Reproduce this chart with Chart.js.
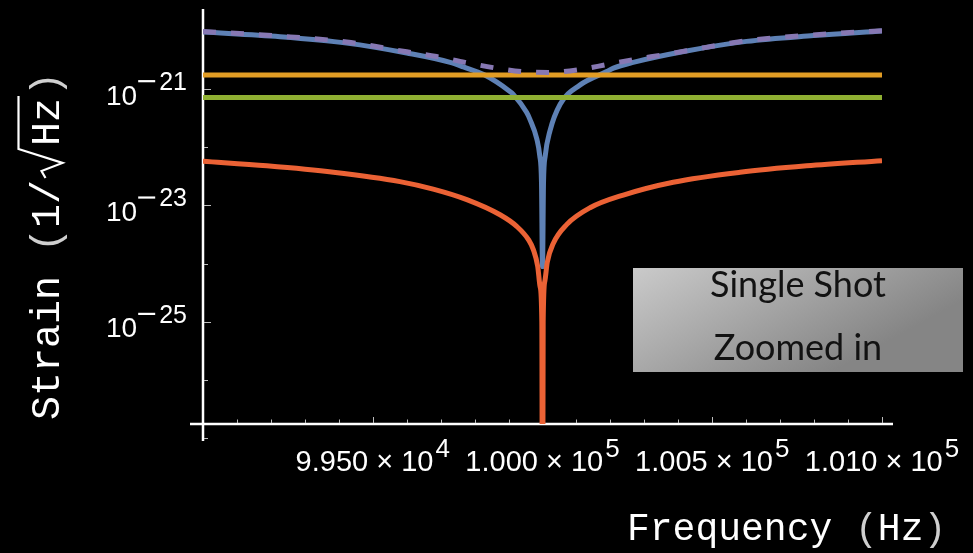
<!DOCTYPE html>
<html>
<head>
<meta charset="utf-8">
<script src="https://cdn.jsdelivr.net/npm/chart.js@4.4.0/dist/chart.umd.min.js"></script>
<style>
  html, body { margin: 0; padding: 0; background: #000; }
  canvas { display: block; }
</style>
</head>
<body>
<canvas id="strain" width="973" height="553" style="width:973px;height:553px"></canvas>
<script>
// frequency range shown (Hz) and strain range of the log axis (1/sqrt(Hz))
var freqMin = 99000, freqMax = 101000;
var strainMin = 1.75e-27, strainMax = 2.38e-20;

// blue: strain response, vanishing at resonance
var blueFreq = [99000, 99227, 99423, 99600, 99728, 99767, 99830, 99904, 99914, 99953, 99963, 99983, 99992, 99997,
  100000, 100003, 100008, 100022, 100052, 100110, 100189, 100209, 100267, 100420, 100601, 100798, 101000];
var blueStrain = [9.55e-21, 7.94e-21, 6.17e-21, 4.17e-21, 2.88e-21, 2.40e-21, 1.74e-21, 9.12e-22, 8.13e-22, 3.98e-22, 3.02e-22, 1.41e-22, 7.08e-23, 2.51e-23,
  8.9e-25, 2.51e-23, 7.08e-23, 1.91e-22, 5.50e-22, 1.17e-21, 2.00e-21, 2.29e-21, 2.88e-21, 4.47e-21, 6.61e-21, 8.32e-21, 1.00e-20];

// red: second contribution with the same null
var redFreq = [99000, 99188, 99384, 99580, 99678, 99777, 99875, 99924, 99960, 99973, 99986, 99993, 99998,
  100000, 100002, 100007, 100014, 100032, 100071, 100140, 100238, 100385, 100582, 100778, 101000];
var redStrain = [5.75e-23, 4.79e-23, 3.72e-23, 2.57e-23, 1.91e-23, 1.26e-23, 6.92e-24, 4.37e-24, 2.51e-24, 1.74e-24, 8.91e-25, 3.98e-25, 1.0e-25,
  1e-30, 1.0e-25, 5.01e-25, 1.05e-24, 2.24e-24, 4.68e-24, 9.12e-24, 1.51e-23, 2.51e-23, 3.72e-23, 4.79e-23, 5.89e-23];

// flat levels
var levelFreq = [99000, 101000];
var orangeLevel = [1.75e-21, 1.75e-21];
var greenLevel = [7.2e-22, 7.2e-22];

// dashed: combined total
var totalFreq = [99000, 99227, 99423, 99600, 99688, 99772, 99855, 99939, 100017, 100105, 100189, 100272, 100356, 100425, 100601, 100798, 101000];
var totalStrain = [9.77e-21, 8.13e-21, 6.46e-21, 4.37e-21, 3.63e-21, 2.88e-21, 2.34e-21, 2.00e-21, 1.93e-21, 2.14e-21, 2.63e-21, 3.24e-21, 3.89e-21, 4.57e-21, 6.76e-21, 8.51e-21, 1.01e-20];

// axis ticks
var xMajorTicks = [99500, 100000, 100500, 101000];
var xTickMantissa = ['9.950', '1.000', '1.005', '1.010'];
var xTickExponent = ['4', '5', '5', '5'];
var xMinorStep = 100;
var yMajorTicks = [1e-21, 1e-23, 1e-25];
var yTickExponent = ['21', '23', '25'];
var yMinorTicks = [1e-20, 1e-22, 1e-24, 1e-26, 1e-27];

function pts(xs, ys) {
  return xs.map(function (x, i) { return { x: x, y: ys[i] }; });
}

var axesPlugin = {
  id: 'mmaAxes',
  beforeDatasetsDraw: function (chart) {
    var ctx = chart.ctx, sx = chart.scales.x, sy = chart.scales.y;
    var ox = sx.getPixelForValue(freqMin);
    var oy = sy.getPixelForValue(strainMin);
    var xEnd = sx.getPixelForValue(freqMax);
    ctx.save();
    ctx.strokeStyle = '#ffffff';
    ctx.lineWidth = 2.5;
    ctx.beginPath();
    ctx.moveTo(ox - 13, oy); ctx.lineTo(xEnd + 11, oy);
    ctx.moveTo(ox, chart.chartArea.top); ctx.lineTo(ox, oy + 17);
    ctx.stroke();

    // tick marks
    ctx.strokeStyle = '#bdbdbd';
    ctx.lineWidth = 1;
    ctx.beginPath();
    for (var f = freqMin + xMinorStep; f <= freqMax; f += xMinorStep) {
      var px = Math.round(sx.getPixelForValue(f)) + 0.5;
      var len = xMajorTicks.indexOf(f) >= 0 ? 6 : 3.5;
      ctx.moveTo(px, oy - 1); ctx.lineTo(px, oy - 1 - len);
    }
    yMajorTicks.forEach(function (v) {
      var py = Math.round(sy.getPixelForValue(v)) + 0.5;
      ctx.moveTo(ox + 1, py); ctx.lineTo(ox + 8, py);
    });
    yMinorTicks.forEach(function (v) {
      var py = Math.round(sy.getPixelForValue(v)) + 0.5;
      ctx.moveTo(ox + 1, py); ctx.lineTo(ox + 5, py);
    });
    ctx.stroke();

    // tick labels: 10 with a superscript, minus sign drawn as a bar
    ctx.fillStyle = '#ffffff';
    ctx.textBaseline = 'alphabetic';
    ctx.textAlign = 'left';
    yMajorTicks.forEach(function (v, i) {
      var py = sy.getPixelForValue(v);
      ctx.font = '28px "Liberation Sans"';
      var wb = ctx.measureText('10').width;
      ctx.font = '25px "Liberation Sans"';
      var we = ctx.measureText(yTickExponent[i]).width;
      var right = 187;
      var expLeft = right - we;
      var left = expLeft - 22 - wb;
      ctx.font = '28px "Liberation Sans"';
      ctx.fillText('10', left, py + 15.5);
      ctx.fillRect(left + wb + 1, py - 9, 17, 2.2);
      ctx.font = '25px "Liberation Sans"';
      ctx.fillText(yTickExponent[i], expLeft, py + 1);
    });
    xMajorTicks.forEach(function (v, i) {
      var px = sx.getPixelForValue(v);
      var base = xTickMantissa[i] + ' \u00d7 10';
      ctx.font = '29px "Liberation Sans"';
      var wb = ctx.measureText(base).width;
      ctx.font = '26px "Liberation Sans"';
      var we = ctx.measureText(xTickExponent[i]).width;
      var left = px - (wb + we + 2) / 2;
      ctx.font = '29px "Liberation Sans"';
      ctx.fillText(base, left, 470.5);
      ctx.font = '26px "Liberation Sans"';
      ctx.fillText(xTickExponent[i], left + wb + 2, 456.5);
    });
    ctx.restore();
  },
  afterDraw: function (chart) {
    var ctx = chart.ctx;
    ctx.save();
    ctx.fillStyle = '#ffffff';
    ctx.textBaseline = 'alphabetic';

    // x title
    ctx.font = '38px "Liberation Mono"';
    ctx.textAlign = 'left';
    var xt = 627;
    ctx.fillText('Frequency ', xt, 540);
    xt += ctx.measureText('Frequency ').width;
    ctx.fillStyle = '#cfcfcf';
    ctx.fillText('(', xt, 540);
    xt += ctx.measureText('(').width;
    ctx.fillStyle = '#ffffff';
    ctx.fillText('Hz', xt, 540);
    xt += ctx.measureText('Hz').width;
    ctx.fillStyle = '#cfcfcf';
    ctx.fillText(')', xt, 540);

    // y title, rotated, with a drawn radical over Hz
    ctx.translate(58.5, 420);
    ctx.rotate(-Math.PI / 2);
    ctx.font = '40px "Liberation Mono"';
    ctx.fillStyle = '#ffffff';
    var u = 0;
    ctx.fillText('Strain ', u, 0);
    u += ctx.measureText('Strain ').width;
    ctx.fillStyle = '#cfcfcf';
    ctx.fillText('(', u, 0);
    u += ctx.measureText('(').width;
    ctx.fillStyle = '#ffffff';
    ctx.fillText('1/', u, 0);
    u += ctx.measureText('1/').width;
    var r0 = u + 2;
    u += 34;
    ctx.fillText('Hz', u, 0);
    u += ctx.measureText('Hz').width;
    var hzEnd = u;
    ctx.strokeStyle = '#ffffff';
    ctx.lineWidth = 2.2;
    ctx.beginPath();
    ctx.moveTo(r0, -13);
    ctx.lineTo(r0 + 7, -17);
    ctx.lineTo(r0 + 15, 4);
    ctx.lineTo(r0 + 29, -40);
    ctx.lineTo(hzEnd + 2, -40);
    ctx.stroke();
    ctx.fillStyle = '#cfcfcf';
    ctx.fillText(')', u + 2, 0);
    ctx.setTransform(1, 0, 0, 1, 0, 0);

    // annotation box
    var bx = 633, by = 268, bw = 330, bh = 104;
    var g = ctx.createLinearGradient(bx, by, bx + 90, by + bh + 60);
    g.addColorStop(0, '#cacaca');
    g.addColorStop(1, '#858585');
    ctx.fillStyle = g;
    ctx.fillRect(bx, by, bw, bh);
    ctx.fillStyle = '#121212';
    ctx.font = '36px Lato';
    ctx.textAlign = 'center';
    ctx.fillText('Single Shot', bx + bw / 2, 297);
    ctx.fillText('Zoomed in', bx + bw / 2, 360);
    ctx.restore();
  }
};

var lw = 5;
new Chart(document.getElementById('strain').getContext('2d'), {
  type: 'line',
  data: {
    datasets: [{
      label: 'blue',
      data: pts(blueFreq, blueStrain),
      borderColor: '#5E81B5',
      borderWidth: lw,
      order: 5
    }, {
      label: 'orange',
      data: pts(levelFreq, orangeLevel),
      borderColor: '#E19C24',
      borderWidth: lw,
      order: 4
    }, {
      label: 'green',
      data: pts(levelFreq, greenLevel),
      borderColor: '#8FB032',
      borderWidth: lw,
      order: 3
    }, {
      label: 'red',
      data: pts(redFreq, redStrain),
      borderColor: '#EB6235',
      borderWidth: lw,
      order: 2
    }, {
      label: 'total',
      data: pts(totalFreq, totalStrain),
      borderColor: '#8778B3',
      borderWidth: lw,
      borderDash: [13, 15],
      order: 1
    }]
  },
  options: {
    responsive: false,
    animation: false,
    devicePixelRatio: 1,
    layout: { padding: { left: 203, right: 91, top: 9, bottom: 129 } },
    elements: {
      point: { radius: 0 },
      line: { cubicInterpolationMode: 'monotone', borderCapStyle: 'butt', fill: false }
    },
    plugins: { legend: { display: false }, tooltip: { enabled: false } },
    scales: {
      x: { type: 'linear', min: freqMin, max: freqMax, display: false },
      y: { type: 'logarithmic', min: strainMin, max: strainMax, display: false }
    }
  },
  plugins: [axesPlugin]
});
</script>
</body>
</html>
